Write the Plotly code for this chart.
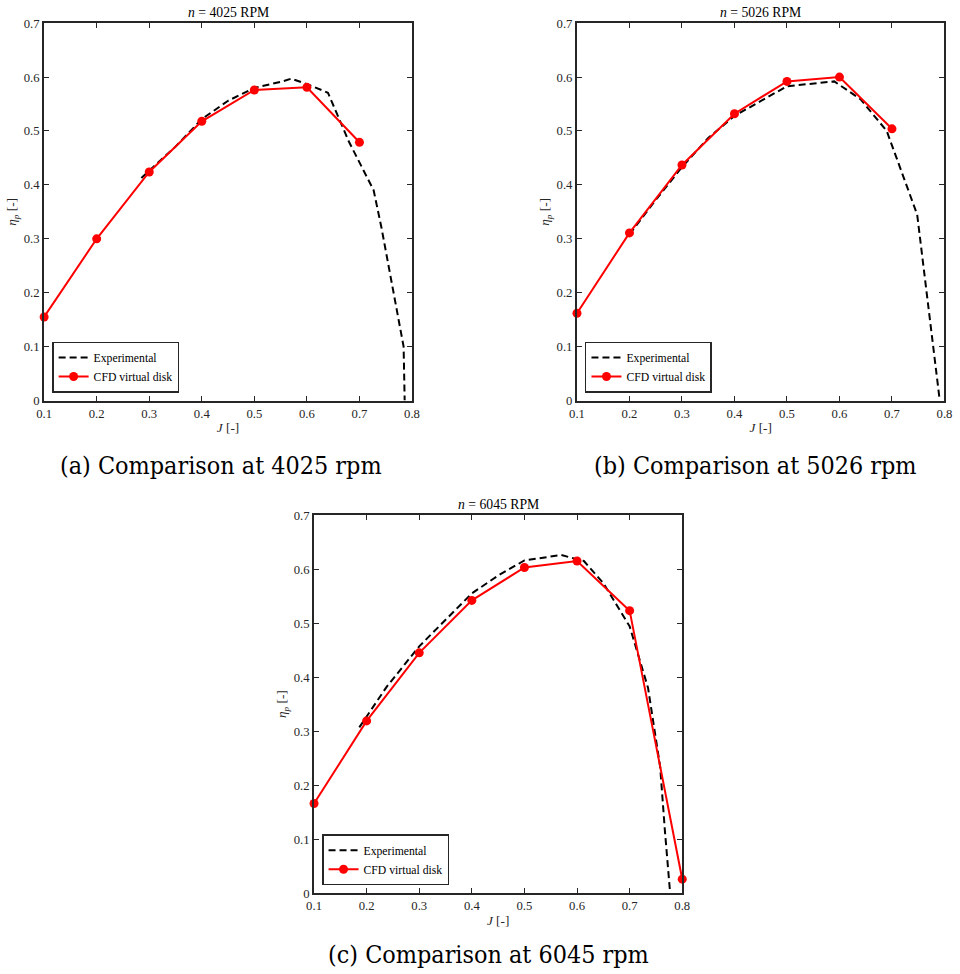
import plotly.graph_objects as go

# Advance ratio J and propulsive efficiency eta_p
J_cfd_4025 = [0.1, 0.2, 0.3, 0.4, 0.5, 0.6, 0.7]
eta_cfd_4025 = [0.155, 0.300, 0.424, 0.518, 0.576, 0.581, 0.479]
J_exp_4025 = [0.285, 0.35, 0.40, 0.45, 0.50, 0.55, 0.57, 0.60, 0.64, 0.68, 0.727, 0.742, 0.784, 0.786]
eta_exp_4025 = [0.413, 0.471, 0.522, 0.556, 0.580, 0.591, 0.597, 0.587, 0.571, 0.48, 0.39, 0.32, 0.10, 0.0]

J_cfd_5026 = [0.1, 0.2, 0.3, 0.4, 0.5, 0.6, 0.7]
eta_cfd_5026 = [0.162, 0.311, 0.437, 0.532, 0.592, 0.600, 0.504]
J_exp_5026 = [0.2, 0.25, 0.3, 0.35, 0.4, 0.45, 0.5, 0.59, 0.64, 0.69, 0.748, 0.791]
eta_exp_5026 = [0.308, 0.372, 0.433, 0.487, 0.528, 0.555, 0.583, 0.592, 0.559, 0.50, 0.345, 0.0]

J_cfd_6045 = [0.1, 0.2, 0.3, 0.4, 0.5, 0.6, 0.7, 0.8]
eta_cfd_6045 = [0.166, 0.319, 0.445, 0.542, 0.603, 0.615, 0.523, 0.026]
J_exp_6045 = [0.186, 0.238, 0.3, 0.4, 0.45, 0.5, 0.57, 0.613, 0.65, 0.70, 0.735, 0.745, 0.758, 0.767, 0.777]
eta_exp_6045 = [0.307, 0.382, 0.457, 0.555, 0.588, 0.616, 0.626, 0.615, 0.574, 0.494, 0.38, 0.314, 0.234, 0.116, 0.0]

titles = ["<i>n</i> = 4025 RPM", "<i>n</i> = 5026 RPM", "<i>n</i> = 6045 RPM"]
captions = ["(a) Comparison at 4025 rpm", "(b) Comparison at 5026 rpm", "(c) Comparison at 6045 rpm"]
x_ticks = [0.1, 0.2, 0.3, 0.4, 0.5, 0.6, 0.7, 0.8]
y_ticks = [0, 0.1, 0.2, 0.3, 0.4, 0.5, 0.6, 0.7]
y_ticktext = ["0", "0.1", "0.2", "0.3", "0.4", "0.5", "0.6", "0.7"]

W, H = 960, 974
PAD = 8                          # default page body margin around the figure
SX = (W + 2 * PAD) / W           # page-to-view scale, horizontal
SY = (H + 2 * PAD) / H           # page-to-view scale, vertical

# panel boxes in view pixels: left, right, top, bottom
boxes = [(44, 412, 24, 400.7), (577, 944.6, 24, 400.7), (314, 682.3, 515, 892.5)]
caption_pos = [(221, 466), (756, 466), (489, 954)]


def px(x):
    return (x * SX - PAD) / W


def py(y):
    return 1 - (y * SY - PAD) / H


def fs(size):
    return size * SX


AX = "#262626"
SERIF = "Liberation Serif"
CAPTION_FONT = "DejaVu Serif Condensed, DejaVu Serif"

fig = go.Figure()
series = [
    (J_exp_4025, eta_exp_4025, J_cfd_4025, eta_cfd_4025),
    (J_exp_5026, eta_exp_5026, J_cfd_5026, eta_cfd_5026),
    (J_exp_6045, eta_exp_6045, J_cfd_6045, eta_cfd_6045),
]

annotations = []
for i, (je, ee, jc, ec) in enumerate(series):
    k = "" if i == 0 else str(i + 1)
    leg = "legend" + k
    fig.add_trace(go.Scatter(
        x=je, y=ee, mode="lines", name="Experimental",
        line=dict(color="black", width=2, dash="7px,4px"),
        xaxis="x" + k, yaxis="y" + k, legend=leg, cliponaxis=False))
    fig.add_trace(go.Scatter(
        x=jc, y=ec, mode="lines+markers", name="CFD virtual disk",
        line=dict(color="#ff0000", width=2),
        marker=dict(color="#ff0000", size=9, symbol="circle"),
        xaxis="x" + k, yaxis="y" + k, legend=leg, cliponaxis=False))

    l, r, t, b = boxes[i]
    common = dict(
        showline=True, linecolor=AX, linewidth=2, mirror="ticks",
        ticks="inside", ticklen=5, tickwidth=1.2, tickcolor=AX,
        showgrid=False, zeroline=False,
        tickfont=dict(family=SERIF, size=fs(12.5), color=AX),
    )
    fig.update_layout(**{
        "xaxis" + k: dict(domain=[px(l), px(r)], range=[0.1, 0.8], tickvals=x_ticks,
                          ticktext=[str(v) for v in x_ticks], anchor="y" + k,
                          title=dict(text="<i>J</i> [-]", standoff=3,
                                     font=dict(family=SERIF, size=fs(13), color=AX)),
                          **common),
        "yaxis" + k: dict(domain=[py(b), py(t)], range=[0, 0.7], tickvals=y_ticks,
                          ticktext=y_ticktext, anchor="x" + k,
                          title=dict(text="<i>η</i><sub><i>p</i></sub> [-]", standoff=4,
                                     font=dict(family=SERIF, size=fs(13), color=AX)),
                          **common),
        leg: dict(x=px(l + 8), y=py(b - 8), xanchor="left", yanchor="bottom",
                  bgcolor="white", bordercolor=AX, borderwidth=1.5,
                  font=dict(family=SERIF, size=fs(11.5), color="black"),
                  tracegroupgap=0, itemwidth=30),
    })
    annotations.append(dict(
        text=titles[i], x=px((l + r) / 2), y=py(t - 10.5),
        xref="paper", yref="paper", xanchor="center", yanchor="middle",
        showarrow=False, font=dict(family=SERIF, size=fs(13.5), color="black")))
    cx, cy = caption_pos[i]
    annotations.append(dict(
        text=captions[i], x=px(cx), y=py(cy),
        xref="paper", yref="paper", xanchor="center", yanchor="middle",
        showarrow=False, font=dict(family=CAPTION_FONT, size=fs(24.5), color="black")))

fig.update_layout(
    width=W, height=H, margin=dict(l=0, r=0, t=0, b=0),
    paper_bgcolor="white", plot_bgcolor="white",
    showlegend=True, annotations=annotations,
)

fig.write_html("out.html")
